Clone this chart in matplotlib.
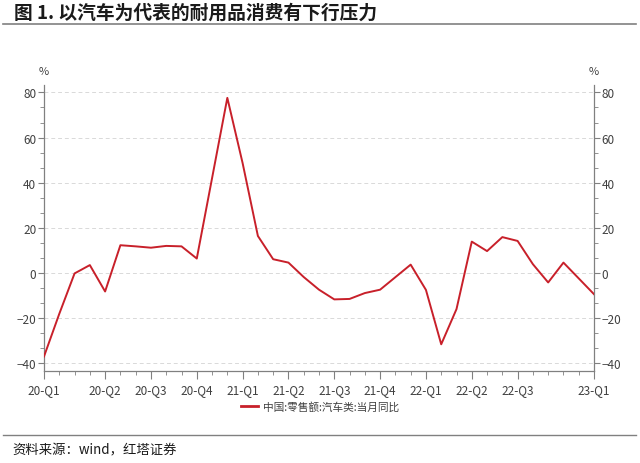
import matplotlib
matplotlib.use("Agg")
import matplotlib.pyplot as plt
from matplotlib.ticker import MultipleLocator, FixedLocator
from matplotlib.lines import Line2D
import pandas as pd

plt.rcParams['font.family'] = ['Noto Sans CJK SC', 'DejaVu Sans']

months = ["2020-02", "2020-03", "2020-04", "2020-05", "2020-06", "2020-07", "2020-08",
          "2020-09", "2020-10", "2020-11", "2020-12", "2021-02", "2021-03", "2021-04",
          "2021-05", "2021-06", "2021-07", "2021-08", "2021-09", "2021-10", "2021-11",
          "2021-12", "2022-02", "2022-03", "2022-04", "2022-05", "2022-06", "2022-07",
          "2022-08", "2022-09", "2022-10", "2022-11", "2022-12", "2023-02"]
values = [-37.0, -18.1, -0.2, 3.5, -8.2, 12.3, 11.8, 11.2, 12.0, 11.8, 6.4, 77.6, 48.7,
          16.4, 6.1, 4.6, -1.8, -7.4, -11.7, -11.5, -8.9, -7.4, 3.7, -7.5, -31.6, -16.0,
          13.9, 9.7, 15.9, 14.2, 3.9, -4.2, 4.6, -9.4]
tick_months = ["2020-02", "2020-06", "2020-09", "2020-12", "2021-03", "2021-06",
               "2021-09", "2021-12", "2022-03", "2022-06", "2022-09", "2023-02"]
tick_labels = ["20-Q1", "20-Q2", "20-Q3", "20-Q4", "21-Q1", "21-Q2", "21-Q3", "21-Q4",
               "22-Q1", "22-Q2", "22-Q3", "23-Q1"]
series_name = "中国:零售额:汽车类:当月同比"
title = "图 1. 以汽车为代表的耐用品消费有下行压力"
source = "资料来源：wind，红塔证券"

start = pd.Period(months[0], freq="M")
def idx(m):
    return (pd.Period(m, freq="M") - start).n

x = [idx(m) for m in months]
xt = [idx(m) for m in tick_months]
xmax = idx(months[-1])

fig = plt.figure(figsize=(6.4, 4.64), dpi=100)
ax = fig.add_axes([44/640, 1-371.7/464, 550/640, (371.7-86)/464])

red = '#c8202a'
axc = '#808080'
ax.plot(x, values, color=red, lw=1.4, zorder=3)
ax.set_xlim(0, xmax)
ax.set_ylim(-43.3, 83.3)

ax.yaxis.set_major_locator(FixedLocator([-40, -20, 0, 20, 40, 60, 80]))
ax.yaxis.set_minor_locator(MultipleLocator(20/3))
ax.xaxis.set_major_locator(FixedLocator(xt))
ax.xaxis.set_minor_locator(MultipleLocator(1))
ax.set_xticklabels(tick_labels)

ax.grid(axis='y', which='major', color='#d9d9d9', ls=(0, (4, 3)), lw=0.7)
ax.spines['top'].set_visible(False)
for s in ['left', 'right', 'bottom']:
    ax.spines[s].set_color(axc)
    ax.spines[s].set_linewidth(0.9)

ax.tick_params(axis='both', which='both', color=axc, labelcolor='#404040', labelsize=8.5)
ax.tick_params(axis='x', which='major', length=6, pad=3)
ax.tick_params(axis='x', which='minor', length=3)
ax.tick_params(axis='y', which='major', length=4, pad=1.5, left=True, right=True,
               labelleft=True, labelright=True)
ax.tick_params(axis='y', which='minor', length=3, left=True, right=True)

fig.text(44/640, 1-72/464, "%", ha='center', va='center', fontsize=8, color='#404040')
fig.text(594/640, 1-72/464, "%", ha='center', va='center', fontsize=8, color='#404040')

fig.text(14/640, 1-13/464, title, ha='left', va='center', fontsize=13.5, fontweight='bold',
         color='#1a1a1a')
fig.add_artist(Line2D([3/640, 636/640], [1-25/464, 1-25/464], color='#808080', lw=1.2))
fig.add_artist(Line2D([3/640, 636/640], [1-436/464, 1-436/464], color='#808080', lw=1.0))
fig.text(12/640, 1-450/464, source, ha='left', va='center', fontsize=9.6, color='#1a1a1a')

handle = Line2D([], [], color=red, lw=2)
fig.legend([handle], [series_name], loc='center', bbox_to_anchor=(320/640, 1-407/464),
           frameon=False, fontsize=7.7, handlelength=1.6, handletextpad=0.5,
           labelcolor='#404040')

fig.savefig("out.png", dpi=100)
